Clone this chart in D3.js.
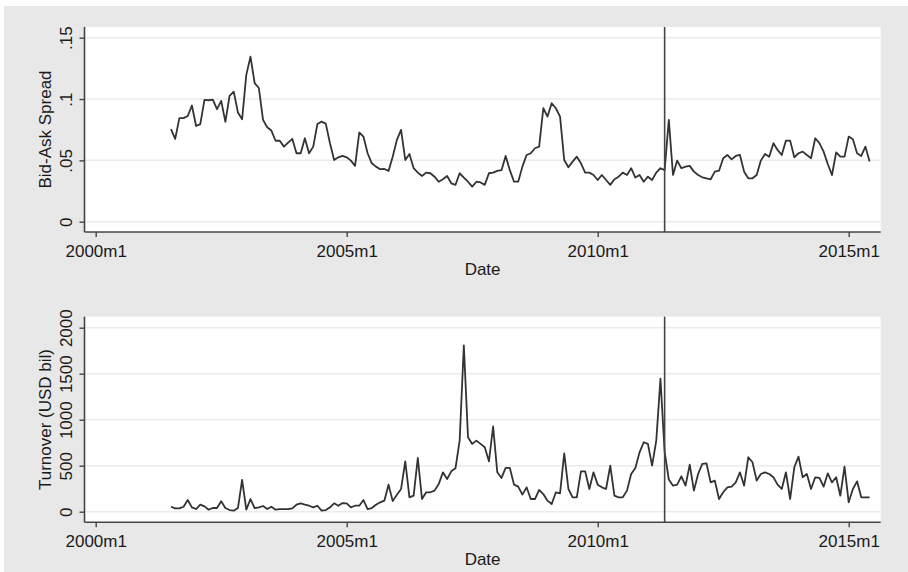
<!DOCTYPE html>
<html>
<head>
<meta charset="utf-8">
<script src="https://cdn.jsdelivr.net/npm/d3@7"></script>
<style>
  body { margin: 0; background: #fff; }
  text { font-family: "Liberation Sans", Arial, Helvetica, sans-serif; fill: #1a1a1a; }
</style>
</head>
<body>
<svg id="chart" width="908" height="572"></svg>
<script>
// monthly series, first observation 2001m7 (months counted from 2000m1)
var firstMonth = 18;
var eventMonth = 136; // 2011m5

var spread = [
  0.0754, 0.0675, 0.0844, 0.0844, 0.0862, 0.0947, 0.078, 0.0795, 0.0993, 0.099, 0.0995, 0.0917,
  0.0985, 0.0814, 0.1026, 0.106, 0.089, 0.0835, 0.1197, 0.1346, 0.113, 0.109, 0.083, 0.077,
  0.0743, 0.066, 0.066, 0.0612, 0.0645, 0.0675, 0.0558, 0.0558, 0.068, 0.0558, 0.0612, 0.0797,
  0.0816, 0.080, 0.064, 0.0503, 0.0525, 0.0536, 0.0525, 0.0498, 0.0455, 0.0727, 0.0694, 0.0558,
  0.0476, 0.0449, 0.0428, 0.043, 0.0414, 0.053, 0.0667, 0.0748, 0.0503, 0.0552, 0.0436, 0.040,
  0.0373, 0.040, 0.0395, 0.0367, 0.0326, 0.0346, 0.0373, 0.0313, 0.030, 0.0395, 0.036, 0.0326,
  0.0286, 0.0326, 0.032, 0.030, 0.0395, 0.040, 0.0414, 0.042, 0.0536, 0.042, 0.0326, 0.0326,
  0.0449, 0.0544, 0.0558, 0.0599, 0.0612, 0.0925, 0.0857, 0.0966, 0.0925, 0.0857, 0.0503, 0.0444,
  0.049, 0.053, 0.0476, 0.040, 0.040, 0.0381, 0.034, 0.0381, 0.034, 0.030, 0.0346, 0.0367,
  0.040, 0.0381, 0.0436, 0.036, 0.0381, 0.0326, 0.0367, 0.034, 0.040, 0.0436, 0.042, 0.083,
  0.0381, 0.0498, 0.0436, 0.0449, 0.0455, 0.0408, 0.0381, 0.0362, 0.0354, 0.0346, 0.0408, 0.0416,
  0.0517, 0.0544, 0.0508, 0.0536, 0.0544, 0.0408, 0.0354, 0.0354, 0.0381, 0.0498, 0.0552, 0.053,
  0.064, 0.0585, 0.0544, 0.0661, 0.0661, 0.0525, 0.0558, 0.0571, 0.0544, 0.0517, 0.068, 0.064,
  0.0571, 0.047, 0.0381, 0.0565, 0.053, 0.053, 0.0694, 0.0672, 0.0558, 0.0536, 0.0612, 0.049
];

var turnover = [
  54, 36, 36, 54, 127, 47, 29, 76, 58, 22, 40, 40,
  113, 40, 18, 11, 40, 345, 22, 138, 40, 47, 62, 29,
  54, 22, 29, 29, 29, 36, 76, 91, 76, 65, 47, 65,
  11, 18, 47, 91, 65, 94, 91, 47, 65, 65, 127, 29,
  40, 76, 102, 120, 294, 115, 185, 247, 548, 156, 174, 584,
  138, 211, 211, 229, 301, 428, 356, 439, 472, 773, 1808, 809,
  737, 773, 737, 700, 548, 926, 428, 367, 476, 476, 294, 272,
  185, 265, 138, 138, 236, 192, 120, 83, 211, 200, 635, 247,
  156, 156, 439, 439, 247, 428, 294, 265, 247, 501, 174, 156,
  156, 229, 410, 475, 645, 755, 737, 501, 773, 1445, 650, 350,
  283, 294, 385, 283, 512, 229, 410, 519, 526, 319, 338, 138,
  211, 265, 272, 319, 428, 283, 592, 537, 338, 410, 428, 410,
  374, 294, 247, 428, 138, 483, 599, 374, 410, 247, 374, 367,
  272, 417, 319, 374, 174, 490, 102, 247, 330, 156, 156, 156
];

var xTickMonths = [0, 60, 120, 180];
var xTickLabels = ["2000m1", "2005m1", "2010m1", "2015m1"];

var spreadTicks = [0, 0.05, 0.1, 0.15];
var spreadTickLabels = ["0", ".05", ".1", ".15"];

var turnoverTicks = [0, 500, 1000, 1500, 2000];
var turnoverTickLabels = ["0", "500", "1000", "1500", "2000"];

var svg = d3.select("#chart");

svg.append("rect").attr("x", 4).attr("y", 6).attr("width", 904).attr("height", 566)
  .attr("fill", "#e8e8e8");

var plotLeft = 84.5, plotRight = 880.7;

var x = d3.scaleLinear().domain([0, 180]).range([95.7, 848.7]);

var panels = [
  { values: spread, top: 27, bottom: 232, y0: 221.7, yMax: 37.7, ticks: spreadTicks,
    labels: spreadTickLabels, title: "Bid-Ask Spread" },
  { values: turnover, top: 316.7, bottom: 522.3, y0: 511.7, yMax: 327.7, ticks: turnoverTicks,
    labels: turnoverTickLabels, title: "Turnover (USD bil)" }
];

panels.forEach(function (p) {
  var y = d3.scaleLinear()
    .domain([p.ticks[0], p.ticks[p.ticks.length - 1]])
    .range([p.y0, p.yMax]);

  var g = svg.append("g");

  g.append("rect")
    .attr("x", plotLeft).attr("y", p.top)
    .attr("width", plotRight - plotLeft).attr("height", p.bottom - p.top)
    .attr("fill", "#fff");

  // grid
  g.selectAll("line.grid")
    .data(p.ticks)
    .enter().append("line")
    .attr("class", "grid")
    .attr("x1", plotLeft).attr("x2", plotRight)
    .attr("y1", function (d) { return y(d); })
    .attr("y2", function (d) { return y(d); })
    .attr("stroke", "#ebebeb")
    .attr("stroke-width", 1.5);

  // series
  var line = d3.line()
    .x(function (d, i) { return x(firstMonth + i); })
    .y(function (d) { return y(d); });

  g.append("path")
    .datum(p.values)
    .attr("d", line)
    .attr("fill", "none")
    .attr("stroke", "#333")
    .attr("stroke-width", 1.8)
    .attr("stroke-linejoin", "round");

  // event line
  g.append("line")
    .attr("x1", x(eventMonth)).attr("x2", x(eventMonth))
    .attr("y1", p.top).attr("y2", p.bottom)
    .attr("stroke", "#444")
    .attr("stroke-width", 1.6);

  // y axis
  var yAxis = d3.axisLeft(y)
    .tickValues(p.ticks)
    .tickFormat(function (d, i) { return p.labels[i]; })
    .tickSize(5)
    .tickSizeOuter(0);

  var ya = g.append("g")
    .attr("transform", "translate(" + plotLeft + ",0)")
    .call(yAxis);
  ya.select(".domain").remove();
  ya.selectAll(".tick line").attr("stroke", "#444").attr("stroke-width", 1.4);
  ya.selectAll(".tick text")
    .attr("transform", "rotate(-90)")
    .attr("x", 0).attr("y", -12.5).attr("dy", 0)
    .attr("text-anchor", "middle")
    .style("font-size", "17px")
    .style("font-family", "'Liberation Sans', Arial, sans-serif")
    .attr("fill", "#1a1a1a");

  // x axis
  var xAxis = d3.axisBottom(x)
    .tickValues(xTickMonths)
    .tickFormat(function (d, i) { return xTickLabels[i]; })
    .tickSize(5)
    .tickSizeOuter(0);

  var xa = g.append("g")
    .attr("transform", "translate(0," + p.bottom + ")")
    .call(xAxis);
  xa.select(".domain").remove();
  xa.selectAll(".tick line").attr("stroke", "#444").attr("stroke-width", 1.4);
  xa.selectAll(".tick text")
    .attr("y", 24.5).attr("dy", 0)
    .style("font-size", "17px")
    .style("font-family", "'Liberation Sans', Arial, sans-serif")
    .attr("fill", "#1a1a1a");

  // axis lines
  g.append("line")
    .attr("x1", plotLeft).attr("x2", plotLeft)
    .attr("y1", p.top).attr("y2", p.bottom)
    .attr("stroke", "#444").attr("stroke-width", 1.6);
  g.append("line")
    .attr("x1", plotLeft).attr("x2", plotRight)
    .attr("y1", p.bottom).attr("y2", p.bottom)
    .attr("stroke", "#444").attr("stroke-width", 1.6);

  // titles
  g.append("text")
    .attr("transform", "translate(51," + ((p.top + p.bottom) / 2) + ") rotate(-90)")
    .attr("text-anchor", "middle")
    .style("font-size", "17px")
    .text(p.title);

  g.append("text")
    .attr("x", (plotLeft + plotRight) / 2)
    .attr("y", p.bottom + 43)
    .attr("text-anchor", "middle")
    .style("font-size", "17px")
    .text("Date");
});
</script>
</body>
</html>
